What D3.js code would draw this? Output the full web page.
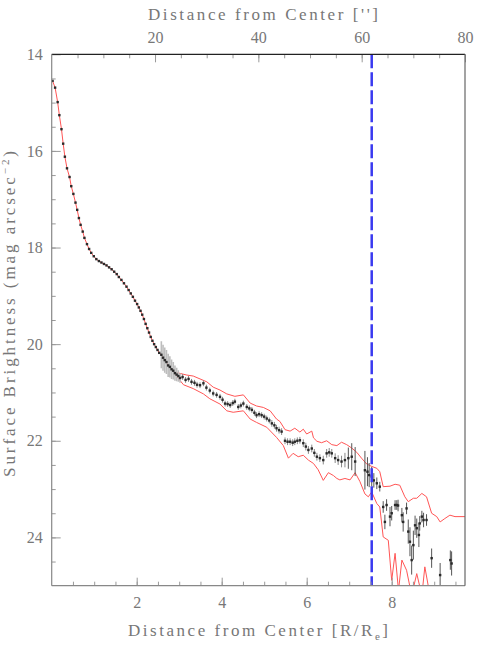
<!DOCTYPE html>
<html>
<head>
<meta charset="utf-8">
<script src="https://cdn.jsdelivr.net/npm/d3@7"></script>
<style>
  html, body { margin: 0; padding: 0; background: #fff; }
  svg { display: block; }
  text { font-family: "Liberation Serif", "DejaVu Serif", serif; fill: #777; }
</style>
</head>
<body>
<div id="chart"></div>
<script>
// ---------------------------------------------------------
// data – surface brightness profile
// ---------------------------------------------------------
// inner profile (small errors, red profile line goes through it)
const innerR  = [0.02, 0.08, 0.14, 0.18, 0.23, 0.27, 0.31, 0.36, 0.42, 0.46, 0.51, 0.56, 0.60, 0.64, 0.68,
                 0.73, 0.77, 0.83, 0.88, 0.93, 0.99, 1.05, 1.11, 1.17, 1.23, 1.29, 1.35, 1.41, 1.47, 1.53,
                 1.58, 1.64, 1.70, 1.76, 1.81, 1.86, 1.91, 1.96, 2.01, 2.05, 2.09, 2.13, 2.17, 2.21, 2.25,
                 2.29, 2.33, 2.37, 2.41, 2.45, 2.49, 2.53];
const innerMu = [14.55, 14.69, 14.99, 15.26, 15.55, 15.85, 16.12, 16.36, 16.54, 16.73, 16.89, 17.07, 17.22, 17.39, 17.53,
                 17.67, 17.80, 17.93, 18.03, 18.11, 18.18, 18.24, 18.28, 18.31, 18.34, 18.37, 18.41, 18.45, 18.50, 18.55,
                 18.61, 18.67, 18.74, 18.81, 18.88, 18.95, 19.02, 19.10, 19.17, 19.24, 19.31, 19.39, 19.48, 19.58, 19.67,
                 19.76, 19.85, 19.93, 20.00, 20.06, 20.12, 20.18];

// transition zone with large (light grey) error bars
const bandR   = [2.58, 2.62, 2.66, 2.70, 2.74, 2.78, 2.82, 2.86, 2.90, 2.94, 2.98, 3.02];
const bandMu  = [20.22, 20.28, 20.33, 20.37, 20.44, 20.47, 20.52, 20.55, 20.60, 20.63, 20.66, 20.70];
const bandErr = [0.28, 0.27, 0.26, 0.25, 0.24, 0.22, 0.20, 0.18, 0.16, 0.14, 0.12, 0.10];

// outer profile
const outerR   = [3.08, 3.15, 3.22, 3.29, 3.36, 3.42, 3.49, 3.57, 3.64, 3.72, 3.80, 3.88, 3.96, 4.02, 4.08,
                  4.14, 4.20, 4.26, 4.31, 4.39, 4.45, 4.51, 4.59, 4.65, 4.71, 4.77, 4.82, 4.88, 4.94, 5.00,
                  5.06, 5.12, 5.18, 5.24, 5.29, 5.35, 5.41, 5.49, 5.55, 5.61, 5.67, 5.72, 5.78, 5.84, 5.92,
                  5.98, 6.04, 6.12, 6.18, 6.24, 6.31, 6.39, 6.47, 6.53, 6.59, 6.67, 6.74, 6.82, 6.90, 6.98,
                  7.06, 7.14, 7.37, 7.43, 7.47, 7.53, 7.58, 7.65, 7.72, 7.80, 7.84, 7.88, 7.96, 8.00, 8.08,
                  8.12, 8.15, 8.24, 8.27, 8.35, 8.39, 8.43, 8.47, 8.51, 8.55, 8.59, 8.64, 8.66, 8.71, 8.75,
                  8.82, 8.94, 9.14, 9.38, 9.41];
const outerMu  = [20.68, 20.74, 20.72, 20.78, 20.80, 20.84, 20.85, 20.81, 20.90, 20.96, 21.02, 21.05, 21.09, 21.15, 21.23,
                  21.24, 21.26, 21.22, 21.19, 21.30, 21.27, 21.23, 21.30, 21.33, 21.36, 21.42, 21.47, 21.45, 21.47, 21.50,
                  21.54, 21.58, 21.64, 21.68, 21.74, 21.78, 21.81, 22.00, 22.02, 22.02, 22.04, 22.02, 22.00, 21.99, 22.05,
                  22.12, 22.19, 22.16, 22.25, 22.33, 22.36, 22.40, 22.26, 22.24, 22.26, 22.36, 22.40, 22.43, 22.40, 22.36,
                  22.33, 22.43, 22.61, 22.64, 22.71, 22.74, 22.82, 22.88, 22.95, 23.37, 23.68, 23.33, 23.57, 23.50, 23.33,
                  23.33, 23.34, 23.54, 23.68, 23.40, 23.88, 24.09, 24.47, 24.16, 23.75, 23.81, 23.95, 23.71, 23.57, 23.64,
                  23.64, 24.43, 24.78, 24.47, 24.54];
const outerErr = [0.06, 0.06, 0.06, 0.06, 0.06, 0.06, 0.06, 0.06, 0.06, 0.06, 0.06, 0.06, 0.06, 0.06, 0.06,
                  0.06, 0.06, 0.06, 0.06, 0.06, 0.06, 0.06, 0.06, 0.06, 0.06, 0.06, 0.06, 0.06, 0.06, 0.06,
                  0.06, 0.06, 0.07, 0.07, 0.07, 0.07, 0.07, 0.07, 0.07, 0.07, 0.07, 0.07, 0.07, 0.07, 0.08,
                  0.08, 0.08, 0.08, 0.08, 0.08, 0.08, 0.09, 0.09, 0.09, 0.09, 0.10, 0.10, 0.12, 0.15, 0.22,
                  0.28, 0.30, 0.40, 0.30, 0.25, 0.20, 0.15, 0.12, 0.10, 0.12, 0.15, 0.12, 0.20, 0.15, 0.10,
                  0.10, 0.12, 0.15, 0.20, 0.12, 0.25, 0.30, 0.30, 0.30, 0.20, 0.20, 0.25, 0.15, 0.12, 0.15,
                  0.12, 0.20, 0.25, 0.20, 0.25];

// red envelope (upper / lower bound) in the outskirts
const upperR  = [2.90, 3.18, 3.33, 3.49, 3.65, 3.80, 3.96, 4.12, 4.31, 4.51, 4.67, 4.82, 4.98, 5.14, 5.29,
                 5.37, 5.49, 5.61, 5.72, 5.84, 5.92, 6.00, 6.12, 6.16, 6.24, 6.35, 6.47, 6.59, 6.71, 6.82,
                 6.94, 7.06, 7.18, 7.29, 7.41, 7.53, 7.65, 7.72, 7.80, 7.96, 8.08, 8.19, 8.31, 8.39, 8.51,
                 8.59, 8.71, 8.82, 8.94, 9.06, 9.14, 9.25, 9.37, 9.49, 9.73];
const upperMu = [20.58, 20.64, 20.66, 20.72, 20.78, 20.89, 20.95, 21.03, 21.08, 21.05, 21.22, 21.28, 21.31, 21.38, 21.55,
                 21.60, 21.77, 21.80, 21.74, 21.82, 21.76, 21.86, 21.80, 21.94, 22.01, 22.04, 22.00, 22.08, 22.10, 22.03,
                 22.08, 22.15, 22.24, 22.36, 22.48, 22.53, 22.57, 22.64, 22.95, 22.94, 22.90, 22.92, 23.16, 23.26, 23.19,
                 23.19, 23.09, 23.16, 23.50, 23.57, 23.68, 23.61, 23.54, 23.57, 23.57];
const lowerR  = [2.90, 3.10, 3.33, 3.57, 3.72, 3.96, 4.12, 4.27, 4.51, 4.67, 4.82, 5.06, 5.29, 5.45, 5.57,
                 5.68, 5.80, 5.92, 6.04, 6.16, 6.27, 6.39, 6.51, 6.63, 6.71, 6.78, 6.90, 7.02, 7.14, 7.25,
                 7.37, 7.45, 7.53, 7.65, 7.72, 7.80, 7.92, 8.00, 8.08, 8.16, 8.24, 8.35, 8.47, 8.59, 8.71,
                 8.78, 8.90];
const lowerMu = [20.62, 20.84, 20.92, 21.03, 21.13, 21.24, 21.38, 21.41, 21.38, 21.55, 21.62, 21.72, 21.93, 22.10, 22.36,
                 22.26, 22.33, 22.30, 22.40, 22.47, 22.60, 22.82, 22.66, 22.72, 22.78, 22.81, 22.78, 22.81, 22.66, 22.84,
                 23.10, 23.16, 23.06, 23.30, 23.37, 23.99, 24.06, 24.89, 24.33, 25.10, 24.47, 24.68, 25.20, 24.75, 25.20,
                 24.61, 25.20];

// axis ticks
const bottomTicks = [2, 4, 6, 8];
const topTicks    = [20, 40, 60, 80];
const leftTicks   = [14, 16, 18, 20, 22, 24];
const cutRadius   = 7.53;  // blue dashed line, R/Re

// ---------------------------------------------------------
// svg + scales
// ---------------------------------------------------------
const W = 491, H = 653;
const plot = { left: 51.7, right: 465, top: 54.3, bottom: 585.7 };

const svg = d3.select("#chart").append("svg")
    .attr("width", W)
    .attr("height", H);

const x    = d3.scaleLinear().domain([0, 9.725]).range([plot.left, plot.right]);
const xTop = d3.scaleLinear().domain([0, 80]).range([plot.left, plot.right]);
const y    = d3.scaleLinear().domain([14, 25]).range([plot.top, plot.bottom]);

svg.append("clipPath").attr("id", "clip")
  .append("rect")
    .attr("x", plot.left).attr("y", plot.top)
    .attr("width", plot.right - plot.left)
    .attr("height", plot.bottom - plot.top);

const g = svg.append("g").attr("clip-path", "url(#clip)");

// ---------------------------------------------------------
// red profile + envelopes
// ---------------------------------------------------------
const line = d3.line().x(d => x(d[0])).y(d => y(d[1]));

const profile = innerR.map((r, i) => [r, innerMu[i]])
  .concat(bandR.map((r, i) => [r, bandMu[i]]).slice(0, 9));

[profile,
 upperR.map((r, i) => [r, upperMu[i]]),
 lowerR.map((r, i) => [r, lowerMu[i]])].forEach(pts => {
  g.append("path")
    .attr("d", line(pts))
    .attr("fill", "none")
    .attr("stroke", "#ff5555")
    .attr("stroke-width", 1);
});

// ---------------------------------------------------------
// error bars + points
// ---------------------------------------------------------
bandR.forEach((r, i) => {
  g.append("line")
    .attr("x1", x(r)).attr("x2", x(r))
    .attr("y1", y(bandMu[i] - bandErr[i]))
    .attr("y2", y(bandMu[i] + bandErr[i]))
    .attr("stroke", "#bdbdbd")
    .attr("stroke-width", 1.6);
});

outerR.forEach((r, i) => {
  g.append("line")
    .attr("x1", x(r)).attr("x2", x(r))
    .attr("y1", y(outerMu[i] - outerErr[i]))
    .attr("y2", y(outerMu[i] + outerErr[i]))
    .attr("stroke", r > 6.9 ? "#555" : "#888")
    .attr("stroke-width", 1);
});

const allPts = innerR.map((r, i) => [r, innerMu[i]])
  .concat(bandR.map((r, i) => [r, bandMu[i]]))
  .concat(outerR.map((r, i) => [r, outerMu[i]]));

g.selectAll("rect.pt")
  .data(allPts)
  .enter().append("rect")
    .attr("class", "pt")
    .attr("x", d => x(d[0]) - 1.2)
    .attr("y", d => y(d[1]) - 1.2)
    .attr("width", 2.4)
    .attr("height", 2.4)
    .attr("fill", "#2a2a2a");

// blue dashed cut line
svg.append("line")
  .attr("x1", x(cutRadius)).attr("x2", x(cutRadius))
  .attr("y1", plot.top).attr("y2", plot.bottom)
  .attr("stroke", "#3a3af0")
  .attr("stroke-width", 2.5)
  .attr("stroke-dasharray", "14,4");

// ---------------------------------------------------------
// axes (ticks drawn inward)
// ---------------------------------------------------------
function styleAxis(sel) {
  sel.select(".domain").remove();
  sel.selectAll(".tick line").attr("stroke", "#999");
  sel.selectAll(".tick text")
    .attr("fill", "#777")
    .style("font-family", '"Liberation Serif", "DejaVu Serif", serif')
    .style("font-size", "16px");
}

// bottom
svg.append("g")
  .attr("transform", `translate(0,${plot.bottom})`)
  .call(d3.axisBottom(x).tickValues(d3.range(0.5, 9.6, 0.5)).tickSize(-4).tickFormat(""))
  .call(styleAxis);
svg.append("g")
  .attr("transform", `translate(0,${plot.bottom})`)
  .call(d3.axisBottom(x).tickValues(bottomTicks).tickSize(-8).tickPadding(11).tickFormat(d3.format("d")))
  .call(styleAxis);

// top
svg.append("g")
  .attr("transform", `translate(0,${plot.top})`)
  .call(d3.axisTop(xTop).tickValues(d3.range(5, 80, 5)).tickSize(-4).tickFormat(""))
  .call(styleAxis);
svg.append("g")
  .attr("transform", `translate(0,${plot.top})`)
  .call(d3.axisTop(xTop).tickValues(topTicks).tickSize(-8).tickPadding(11).tickFormat(d3.format("d")))
  .call(styleAxis);

// left
svg.append("g")
  .attr("transform", `translate(${plot.left},0)`)
  .call(d3.axisLeft(y).tickValues(d3.range(14.5, 25, 0.5)).tickSize(-4).tickFormat(""))
  .call(styleAxis);
svg.append("g")
  .attr("transform", `translate(${plot.left},0)`)
  .call(d3.axisLeft(y).tickValues(leftTicks).tickSize(-9).tickPadding(9).tickFormat(d3.format("d")))
  .call(styleAxis);

// frame
svg.append("line").attr("x1", plot.left).attr("x2", plot.right).attr("y1", plot.top).attr("y2", plot.top)
  .attr("stroke", "#222").attr("stroke-width", 1.2);
svg.append("line").attr("x1", plot.left).attr("x2", plot.right).attr("y1", plot.bottom).attr("y2", plot.bottom)
  .attr("stroke", "#888").attr("stroke-width", 1.2);
svg.append("line").attr("x1", plot.left).attr("x2", plot.left).attr("y1", plot.top).attr("y2", plot.bottom)
  .attr("stroke", "#888").attr("stroke-width", 1.2);
svg.append("line").attr("x1", plot.right).attr("x2", plot.right).attr("y1", plot.top).attr("y2", plot.bottom)
  .attr("stroke", "#666").attr("stroke-width", 1.2);

// ---------------------------------------------------------
// axis titles
// ---------------------------------------------------------
svg.append("text")
  .attr("x", 148).attr("y", 20)
  .attr("textLength", 230).attr("lengthAdjust", "spacing")
  .style("font-size", "17px")
  .text("Distance from Center ['']");

const bt = svg.append("text")
  .attr("x", 128).attr("y", 636)
  .attr("textLength", 260).attr("lengthAdjust", "spacing")
  .style("font-size", "17px");
bt.append("tspan").text("Distance from Center [R/R");
bt.append("tspan").attr("dy", 4).style("font-size", "11px").text("e");
bt.append("tspan").attr("dy", -4).text("]");

const yl = svg.append("text")
  .attr("transform", "translate(14.5,314) rotate(-90)")
  .attr("text-anchor", "middle")
  .attr("textLength", 326).attr("lengthAdjust", "spacing")
  .style("font-size", "17px");
yl.append("tspan").text("Surface Brightness (mag arcsec");
yl.append("tspan").attr("dy", -6).style("font-size", "11px").text("−2");
yl.append("tspan").attr("dy", 6).text(")");
</script>
</body>
</html>
